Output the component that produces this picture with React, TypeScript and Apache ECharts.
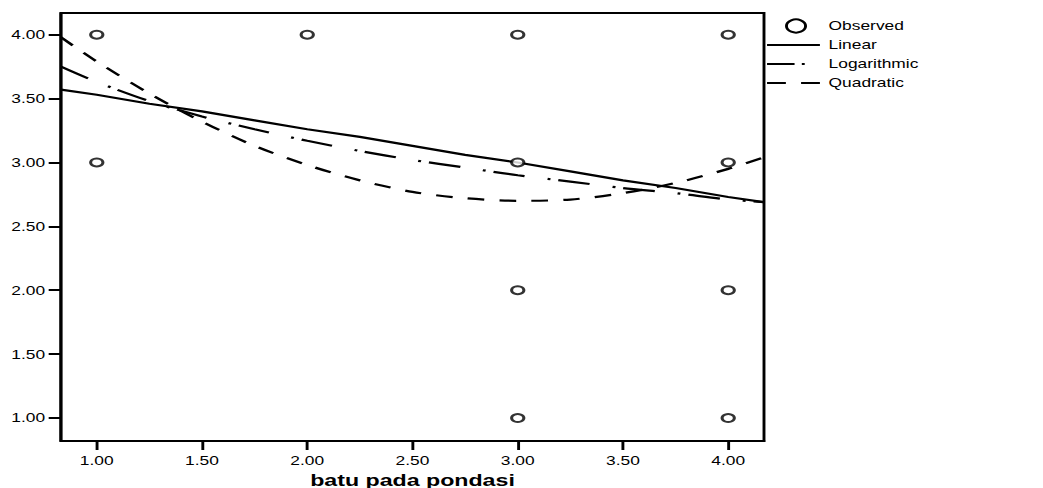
import React, { useEffect, useRef } from "react";
import * as echarts from "echarts";

// Observed data points
const obsX = [1, 1, 2, 3, 3, 3, 3, 4, 4, 4, 4];
const obsY = [4, 3, 4, 4, 3, 2, 1, 4, 3, 2, 1];

// Fitted curves
const curveX = [0.83, 1.0, 1.25, 1.5, 1.75, 2.0, 2.25, 2.5, 2.75, 3.0, 3.25, 3.5, 3.75, 4.0, 4.17];
const linearY = [3.57, 3.53, 3.46, 3.4, 3.33, 3.26, 3.2, 3.13, 3.06, 3.0, 2.93, 2.86, 2.8, 2.73, 2.69];
const logY = [3.75, 3.63, 3.48, 3.36, 3.26, 3.17, 3.09, 3.02, 2.96, 2.9, 2.85, 2.8, 2.76, 2.71, 2.69];
const quadY = [3.98, 3.79, 3.54, 3.32, 3.13, 2.98, 2.86, 2.77, 2.72, 2.7, 2.71, 2.76, 2.84, 2.95, 3.04];

const xTicks = [1, 1.5, 2, 2.5, 3, 3.5, 4];
const yTicks = [1, 1.5, 2, 2.5, 3, 3.5, 4];
const legendNames = ["Observed", "Linear", "Logarithmic", "Quadratic"];
const xTitle = "batu pada pondasi";

const W = 720;
const H = 488;
const S = 1043 / W;
const FONT = "'Liberation Sans', Arial, sans-serif";

export default function App() {
  const ref = useRef<HTMLDivElement>(null);
  useEffect(() => {
    if (!ref.current) return;
    const chart = echarts.init(ref.current, null, { renderer: "svg" });
    const pairs = (xs: number[], ys: number[]) => xs.map((x, i) => [x, ys[i]]);
    const lx1 = 529.5;
    const lx2 = 566;
    const tx = 572;
    const ly = [26, 45, 64, 83];
    const legendText = (name: string, y: number) => ({
      type: "text",
      x: tx,
      y,
      style: {
        text: name,
        fill: "#000",
        font: `12px ${FONT}`,
        textAlign: "left",
        textVerticalAlign: "middle",
        verticalAlign: "middle",
      },
    });
    chart.setOption({
      animation: false,
      backgroundColor: "#fff",
      grid: {
        left: 42.1,
        right: W - 527.4,
        top: 13,
        bottom: 47,
        containLabel: false,
        outerBoundsMode: "none",
        show: true,
        borderColor: "#000",
        borderWidth: 2,
        backgroundColor: "transparent",
      },
      xAxis: {
        type: "value",
        min: 0.83,
        max: 4.17,
        name: xTitle,
        nameLocation: "middle",
        nameGap: 28,
        nameTextStyle: { fontFamily: FONT, fontSize: 16, fontWeight: "bold", color: "#000" },
        axisLine: { show: true, lineStyle: { color: "#000", width: 2 } },
        axisTick: { show: true, inside: false, length: 9, customValues: xTicks, lineStyle: { color: "#000", width: 2 } },
        axisLabel: {
          customValues: xTicks,
          margin: 14,
          color: "#000",
          fontFamily: FONT,
          fontSize: 12,
          formatter: (v: number) => v.toFixed(2),
        },
        splitLine: { show: false },
      },
      yAxis: {
        type: "value",
        min: 0.82,
        max: 4.17,
        axisLine: { show: true, lineStyle: { color: "#000", width: 2 } },
        axisTick: { show: true, inside: false, length: 8.5, customValues: yTicks, lineStyle: { color: "#000", width: 2 } },
        axisLabel: {
          customValues: yTicks,
          margin: 11,
          color: "#000",
          fontFamily: FONT,
          fontSize: 12,
          formatter: (v: number) => v.toFixed(2),
        },
        splitLine: { show: false },
      },
      series: [
        {
          name: legendNames[1],
          type: "line",
          data: pairs(curveX, linearY),
          showSymbol: false,
          lineStyle: { color: "#000", width: 2.2, type: "solid" },
          z: 2,
        },
        {
          name: legendNames[2],
          type: "line",
          data: pairs(curveX, logY),
          showSymbol: false,
          smooth: 0.3,
          lineStyle: { color: "#000", width: 2.2, type: [22, 16, 2, 5.5] },
          z: 2,
        },
        {
          name: legendNames[3],
          type: "line",
          data: pairs(curveX, quadY),
          showSymbol: false,
          smooth: 0.3,
          lineStyle: { color: "#000", width: 2.2, type: [11.5, 10.5] },
          z: 2,
        },
        {
          name: legendNames[0],
          type: "scatter",
          data: pairs(obsX, obsY),
          symbol: "circle",
          symbolSize: [8.5, 8],
          itemStyle: { color: "#fff", borderColor: "#000", borderWidth: 2 },
          z: 5,
        },
      ],
      graphic: [
        {
          type: "circle",
          shape: { cx: 549.5, cy: ly[0], r: 6.6 },
          style: { fill: "#fff", stroke: "#000", lineWidth: 2 },
        },
        legendText(legendNames[0], ly[0]),
        {
          type: "line",
          shape: { x1: lx1, y1: ly[1], x2: lx2, y2: ly[1] },
          style: { stroke: "#000", lineWidth: 2 },
        },
        legendText(legendNames[1], ly[1]),
        {
          type: "line",
          shape: { x1: lx1, y1: ly[2], x2: 555.5, y2: ly[2] },
          style: { stroke: "#000", lineWidth: 2, lineDash: [19, 5, 2, 100] },
        },
        legendText(legendNames[2], ly[2]),
        {
          type: "line",
          shape: { x1: lx1, y1: ly[3], x2: lx2, y2: ly[3] },
          style: { stroke: "#000", lineWidth: 2, lineDash: [13, 10.5] },
        },
        legendText(legendNames[3], ly[3]),
      ],
    });
    return () => chart.dispose();
  }, []);
  return (
    <div
      ref={ref}
      style={{
        position: "absolute",
        left: 0,
        top: 0,
        width: W,
        height: H,
        transform: `scaleX(${S})`,
        transformOrigin: "0 0",
      }}
    />
  );
}
